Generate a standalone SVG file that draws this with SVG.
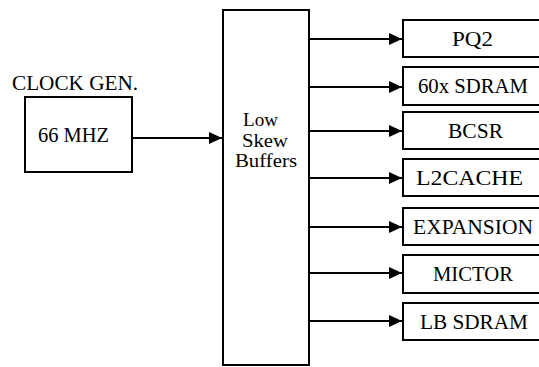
<svg xmlns="http://www.w3.org/2000/svg" width="539" height="367" viewBox="0 0 539 367">
<style>
.box{fill:#fff;stroke:#000;stroke-width:2}
.t{font-family:"Liberation Serif","Times New Roman",serif;font-size:20.5px;fill:#000}
.b{font-size:18.5px}
.c{text-anchor:middle}
.ln{stroke:#000;stroke-width:2;fill:none}
</style>
<defs>
<marker id="ah" markerUnits="userSpaceOnUse" markerWidth="14" markerHeight="13" refX="13" refY="6" orient="auto">
<path d="M0,0 L13,6 L0,12 Z" fill="#000"/>
</marker>
</defs>
<rect width="539" height="367" fill="#fff"/>
<g id="connectors">
<line class="ln" x1="132" y1="138" x2="222" y2="138" marker-end="url(#ah)"/>
<line class="ln" x1="309" y1="39" x2="402" y2="39" marker-end="url(#ah)"/>
<line class="ln" x1="309" y1="87" x2="402" y2="87" marker-end="url(#ah)"/>
<line class="ln" x1="309" y1="131" x2="402" y2="131" marker-end="url(#ah)"/>
<line class="ln" x1="309" y1="178" x2="402" y2="178" marker-end="url(#ah)"/>
<line class="ln" x1="309" y1="227" x2="402" y2="227" marker-end="url(#ah)"/>
<line class="ln" x1="309" y1="273" x2="402" y2="273" marker-end="url(#ah)"/>
<line class="ln" x1="309" y1="321" x2="402" y2="321" marker-end="url(#ah)"/>
</g>
<g id="clock">
<text class="t" x="12" y="90" textLength="126" lengthAdjust="spacingAndGlyphs">CLOCK GEN.</text>
<rect class="box" x="25" y="97" width="107" height="75"/>
<text class="t" x="38" y="142" textLength="71" lengthAdjust="spacingAndGlyphs">66 MHZ</text>
</g>
<g id="buffers">
<rect class="box" x="223" y="10" width="86" height="355"/>
<text class="t b" x="243" y="126" textLength="35" lengthAdjust="spacingAndGlyphs">Low</text>
<text class="t b" x="242" y="146.5" textLength="46" lengthAdjust="spacingAndGlyphs">Skew</text>
<text class="t b" x="235" y="167" textLength="62" lengthAdjust="spacingAndGlyphs">Buffers</text>
</g>
<g id="pq2">
<rect class="box" x="403" y="20" width="150" height="37"/>
<text class="t" x="452" y="46" textLength="41" lengthAdjust="spacingAndGlyphs">PQ2</text>
</g>
<g id="sdram60x">
<rect class="box" x="403" y="67" width="150" height="38"/>
<text class="t" x="418" y="93" textLength="110" lengthAdjust="spacingAndGlyphs">60x SDRAM</text>
</g>
<g id="bcsr">
<rect class="box" x="403" y="112" width="150" height="37"/>
<text class="t" x="448" y="138" textLength="55" lengthAdjust="spacingAndGlyphs">BCSR</text>
</g>
<g id="l2cache">
<rect class="box" x="403" y="159" width="150" height="37"/>
<text class="t" x="416" y="185" textLength="107" lengthAdjust="spacingAndGlyphs">L2CACHE</text>
</g>
<g id="expansion">
<rect class="box" x="403" y="208" width="150" height="37"/>
<text class="t" x="413" y="234" textLength="120" lengthAdjust="spacingAndGlyphs">EXPANSION</text>
</g>
<g id="mictor">
<rect class="box" x="403" y="255" width="150" height="38"/>
<text class="t" x="433" y="281" textLength="80" lengthAdjust="spacingAndGlyphs">MICTOR</text>
</g>
<g id="lbsdram">
<rect class="box" x="403" y="303" width="150" height="37"/>
<text class="t" x="420" y="329" textLength="108" lengthAdjust="spacingAndGlyphs">LB SDRAM</text>
</g>
</svg>
